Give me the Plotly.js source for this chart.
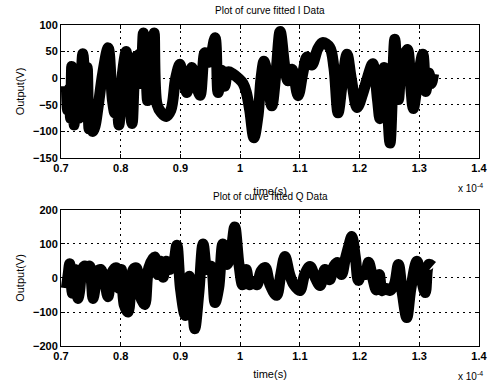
<!DOCTYPE html>
<html>
<head>
<meta charset="utf-8">
<script src="https://cdn.plot.ly/plotly-3.0.1.min.js"></script>
<style>html,body{margin:0;padding:0;background:#fff;}#chart{width:493px;height:384px;}</style>
</head>
<body>
<div id="chart"></div>
<script>
// time in units of 1e-4 s
const tI = [0.709,0.711,0.714,0.716,0.718,0.720,0.722,0.724,0.726,0.728,0.730,0.733,0.7365,0.740,0.742,0.744,0.747,0.750,0.753,0.757,0.762,0.770,0.779,0.786,0.790,0.793,0.797,0.800,0.803,0.809,0.812,0.815,0.819,0.822,0.825,0.828,0.831,0.834,0.838,0.842,0.845,0.849,0.852,0.856,0.861,0.868,0.876,0.884,0.892,0.899,0.906,0.911,0.919,0.926,0.933,0.941,0.948,0.958,0.963,0.969,0.974,0.980,0.988,0.997,1.005,1.010,1.016,1.023,1.030,1.035,1.040,1.046,1.053,1.060,1.067,1.075,1.080,1.087,1.097,1.105,1.112,1.120,1.130,1.138,1.150,1.157,1.164,1.171,1.179,1.186,1.196,1.205,1.213,1.222,1.230,1.234,1.241,1.246,1.251,1.259,1.265,1.271,1.280,1.286,1.290,1.298,1.306,1.311,1.316,1.320,1.324];
const vI = [-15,-60,-20,-75,22,-30,-88,0,-60,10,-75,-20,46,-10,-60,20,-95,-60,-100,-90,-55,10,57,-40,-65,-30,-88,-40,10,50,0,-50,-85,-20,40,20,45,-10,85,20,-42,30,-10,85,-50,-65,-72,-60,0,26,-10,-27,20,-10,-32,48,30,76,-27,15,-15,12,8,0,-10,-25,-60,-112,-70,0,32,0,-52,10,88,20,-5,17,-33,10,40,25,55,67,58,20,-65,-10,45,0,-55,-30,0,27,-40,-76,20,-40,-122,73,-40,30,54,-20,-57,0,45,-25,10,-10,8];

const tQ = [0.709,0.712,0.7145,0.717,0.719,0.721,0.723,0.726,0.7285,0.731,0.734,0.737,0.7397,0.744,0.748,0.751,0.7536,0.757,0.760,0.766,0.772,0.7787,0.785,0.7927,0.797,0.801,0.806,0.8122,0.817,0.821,0.8262,0.832,0.8401,0.847,0.857,0.862,0.866,0.871,0.876,0.882,0.888,0.894,0.900,0.908,0.915,0.919,0.924,0.931,0.938,0.945,0.951,0.958,0.964,0.971,0.978,0.984,0.991,0.998,1.004,1.010,1.016,1.022,1.028,1.035,1.042,1.050,1.061,1.068,1.075,1.083,1.090,1.100,1.108,1.117,1.126,1.134,1.142,1.150,1.157,1.164,1.170,1.176,1.182,1.187,1.193,1.198,1.204,1.210,1.215,1.222,1.228,1.233,1.238,1.244,1.250,1.258,1.265,1.272,1.279,1.286,1.296,1.303,1.310,1.316,1.322];
const vQ = [-30,10,42,-10,-45,0,25,-20,-60,-40,10,30,35,25,35,-10,-60,-30,15,25,0,-55,15,30,-30,25,-80,-100,-30,25,30,-50,-78,30,62,10,50,2,49,25,40,96,-30,-110,5,-30,-149,-40,100,25,35,-72,-30,100,40,70,150,40,-20,25,-20,-10,-20,20,31,-20,-51,10,63,10,-20,-37,10,34,0,-22,25,-5,35,45,10,55,95,122,60,-7,20,10,46,0,-35,10,-37,-30,-37,-20,40,-50,-116,-30,49,0,-43,40,35];

const xTicks = [0.7,0.8,0.9,1.0,1.1,1.2,1.3,1.4];
const xTickText = ['0.7','0.8','0.9','1','1.1','1.2','1.3','1.4'];
const yTicksI = [-150,-100,-50,0,50,100];
const yTicksQ = [-200,-100,0,100,200];

const fontFam = 'Liberation Sans, Arial, sans-serif';
const tickFont = {family: fontFam, size: 11, color: '#000', weight: 'bold'};

const lineStyle = {color: '#000', width: 11, shape: 'spline', smoothing: 1};

const traces = [
  {x: tI, y: vI, type: 'scatter', mode: 'lines', line: lineStyle, xaxis: 'x', yaxis: 'y', hoverinfo: 'skip'},
  {x: tQ, y: vQ, type: 'scatter', mode: 'lines', line: lineStyle, xaxis: 'x2', yaxis: 'y2', hoverinfo: 'skip'}
];

function xax(anchor, standoff) {
  return {
    domain: [0, 1], anchor: anchor, range: [0.7, 1.4],
    tickvals: xTicks, ticktext: xTickText, tickfont: tickFont,
    showline: true, linecolor: '#000', linewidth: 1, mirror: 'ticks',
    ticks: 'inside', ticklen: 4, tickcolor: '#000',
    showgrid: true, gridcolor: '#000', gridwidth: 1, griddash: '2px,4px',
    zeroline: false,
    title: {text: 'time(s)', font: {family: fontFam, size: 11, color: '#000'}, standoff: standoff}
  };
}
function yax(anchor, dom, rng, ticks) {
  return {
    domain: dom, anchor: anchor, range: rng, tickvals: ticks, tickfont: tickFont,
    showline: true, linecolor: '#000', linewidth: 1, mirror: 'ticks',
    ticks: 'inside', ticklen: 4, tickcolor: '#000',
    showgrid: true, gridcolor: '#000', gridwidth: 1, griddash: '2px,4px',
    zeroline: false,
    title: {text: 'Output(V)', font: {family: fontFam, size: 11, color: '#000'}, standoff: 6}
  };
}

const layout = {
  width: 493, height: 384,
  margin: {l: 61, r: 14, t: 25, b: 38},
  paper_bgcolor: '#fff', plot_bgcolor: '#fff',
  showlegend: false,
  xaxis: xax('y', 14),
  yaxis: yax('x', [0.5857, 1], [-150, 100], yTicksI),
  xaxis2: xax('y2', 9),
  yaxis2: yax('x2', [0, 0.4237], [-200, 200], yTicksQ),
  annotations: [
    {text: 'Plot of curve fitted I Data', xref: 'paper', yref: 'paper', x: 0.5, y: 1, yanchor: 'middle', yshift: 15, showarrow: false, font: {family: fontFam, size: 10, color: '#000'}},
    {text: 'Plot of curve fitted Q Data', xref: 'paper', yref: 'paper', x: 0.5, y: 0.4237, yanchor: 'middle', yshift: 13, showarrow: false, font: {family: fontFam, size: 10, color: '#000'}},
    {text: 'x 10<sup>-4</sup>', xref: 'paper', yref: 'paper', x: 1, y: 0.5857, xanchor: 'right', yanchor: 'middle', yshift: -30, xshift: 6, showarrow: false, font: {family: fontFam, size: 10, color: '#000'}},
    {text: 'x 10<sup>-4</sup>', xref: 'paper', yref: 'paper', x: 1, y: 0, xanchor: 'right', yanchor: 'middle', yshift: -30, xshift: 6, showarrow: false, font: {family: fontFam, size: 10, color: '#000'}}
  ]
};

Plotly.newPlot('chart', traces, layout, {staticPlot: true, displayModeBar: false});
</script>
</body>
</html>
